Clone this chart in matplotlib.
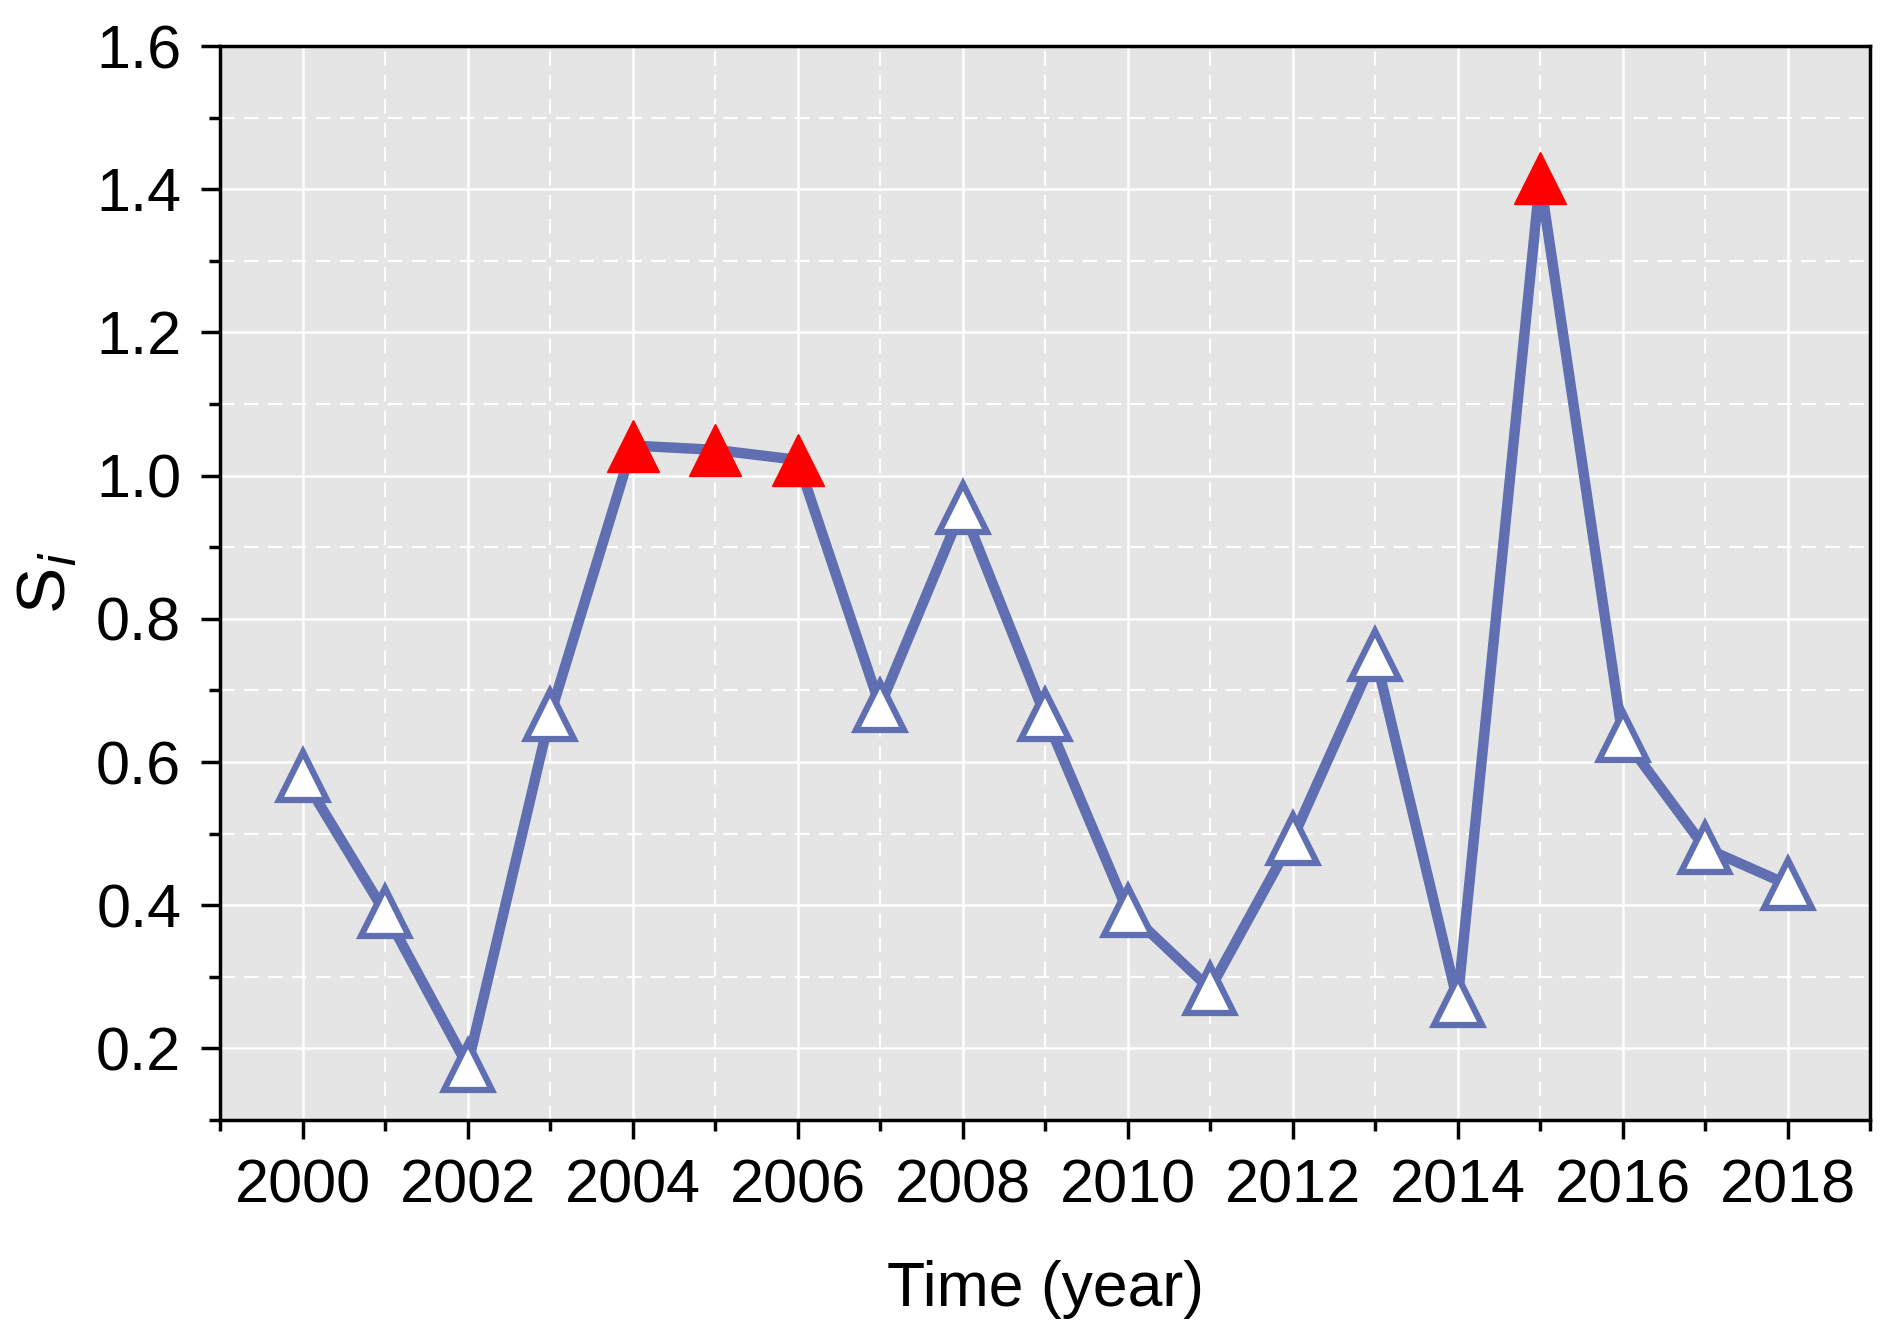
import numpy as np
import matplotlib
matplotlib.use('Agg')
import matplotlib.pyplot as plt
from matplotlib.ticker import MultipleLocator

plt.rcParams['font.family'] = ['Liberation Sans', 'DejaVu Sans']

years = [2000, 2001, 2002, 2003, 2004, 2005, 2006, 2007, 2008, 2009,
         2010, 2011, 2012, 2013, 2014, 2015, 2016, 2017, 2018]
si = [0.58, 0.39, 0.176, 0.665, 1.042, 1.036, 1.022, 0.678, 0.955, 0.665,
      0.392, 0.283, 0.493, 0.75, 0.266, 1.415, 0.636, 0.48, 0.429]
# years highlighted with red markers
peak_years = [2004, 2005, 2006, 2015]

line_col = '#5f6fb1'

fig = plt.figure(figsize=(18.92, 13.42), dpi=100)
ax = fig.add_axes([0.1163, 0.1654, 0.8721, 0.8003])
ax.set_facecolor('#e5e5e5')

ax.plot(years, si, color=line_col, lw=7.5, zorder=3)
normal = [(x, y) for x, y in zip(years, si) if x not in peak_years]
peaks = [(x, y) for x, y in zip(years, si) if x in peak_years]
ax.plot([p[0] for p in normal], [p[1] for p in normal], ls='none', marker='^',
        ms=35, mfc='white', mec=line_col, mew=4.5, zorder=4)
ax.plot([p[0] for p in peaks], [p[1] for p in peaks], ls='none', marker='^',
        ms=37, mfc='red', mec='red', mew=1, zorder=4)

ax.set_xlim(1999, 2019)
ax.set_ylim(0.1, 1.6)
ax.xaxis.set_minor_locator(MultipleLocator(1))
ax.yaxis.set_minor_locator(MultipleLocator(0.1))
ax.set_xticks(range(2000, 2019, 2))
ax.set_yticks([0.2, 0.4, 0.6, 0.8, 1.0, 1.2, 1.4, 1.6])

ax.grid(True, which='major', color='white', lw=1.8, ls='-', zorder=0)
ax.grid(True, which='minor', color='white', lw=1.5, ls=(0, (7, 4.5)), zorder=0)
ax.set_axisbelow(True)

for s in ax.spines.values():
    s.set_linewidth(2.5)
    s.set_color('black')

ax.tick_params(which='major', direction='out', length=14, width=2.5,
               labelsize=44, pad=14, top=False, right=False)
ax.tick_params(which='minor', direction='out', length=8, width=2.5,
               top=False, right=False)

ax.set_xlabel('Time (year)', fontsize=45, labelpad=32)
ax.set_ylabel('$\\mathregular{S}_{\\mathregular{\\mathit{i}}}$', fontsize=50, labelpad=12)

fig.savefig('out.png', dpi=100)
